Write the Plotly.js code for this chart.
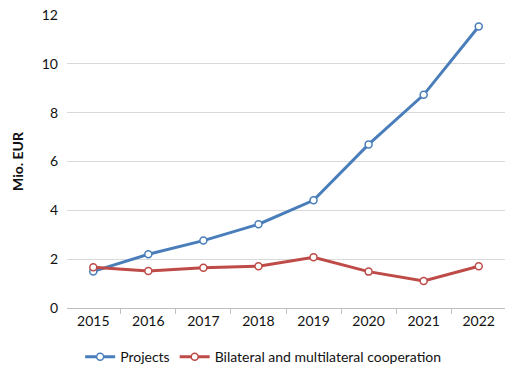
<!DOCTYPE html>
<html><head><meta charset="utf-8">
<script src="https://cdn.plot.ly/plotly-3.0.1.min.js"></script>
<style>html,body{margin:0;padding:0;background:#fff}#chart{width:519px;height:374px}</style>
</head><body><div id="chart"></div>
<script>
var years = ["2015","2016","2017","2018","2019","2020","2021","2022"];
var projects = [1.5, 2.2, 2.76, 3.43, 4.41, 6.7, 8.73, 11.53];
var cooperation = [1.67, 1.52, 1.65, 1.71, 2.08, 1.49, 1.11, 1.71];
var seriesNames = ["Projects", "Bilateral and multilateral cooperation"];
var yTicks = [0, 2, 4, 6, 8, 10, 12];

var fontFam = "Lato, 'Open Sans', sans-serif";
function trace(y, name, color) {
  return {x: years, y: y, name: name, type: "scatter", mode: "lines+markers",
    line: {color: color, width: 3},
    marker: {symbol: "circle", size: 7, color: "#ffffff", line: {color: color, width: 1.5}}};
}
var data = [trace(projects, seriesNames[0], "#4a7ebb"), trace(cooperation, seriesNames[1], "#be4b48")];
var layout = {
  width: 519, height: 374,
  margin: {l: 67, r: 14, t: 15, b: 66},
  paper_bgcolor: "#fff", plot_bgcolor: "#fff",
  font: {family: fontFam, size: 14, color: "#111"},
  showlegend: true,
  legend: {orientation: "h", xref: "paper", x: 0.03, xanchor: "left", yref: "container", y: 0.088, yanchor: "top",
    font: {size: 14}, itemwidth: 30},
  xaxis: {type: "category", tickson: "boundaries", ticks: "outside", ticklen: 5, tickcolor: "#bfbfbf",
    showline: true, linecolor: "#bfbfbf", linewidth: 1, showgrid: false, zeroline: false, fixedrange: true,
    automargin: false},
  yaxis: {range: [0, 12], tickvals: yTicks, ticks: "", showline: false, gridcolor: "#d9d9d9", gridwidth: 1,
    zeroline: false, ticklabelstandoff: 8, automargin: false,
    title: {text: "<b>Mio. EUR</b>", font: {size: 14}, standoff: 14}}
};
Plotly.newPlot("chart", data, layout, {staticPlot: true});
</script></body></html>
